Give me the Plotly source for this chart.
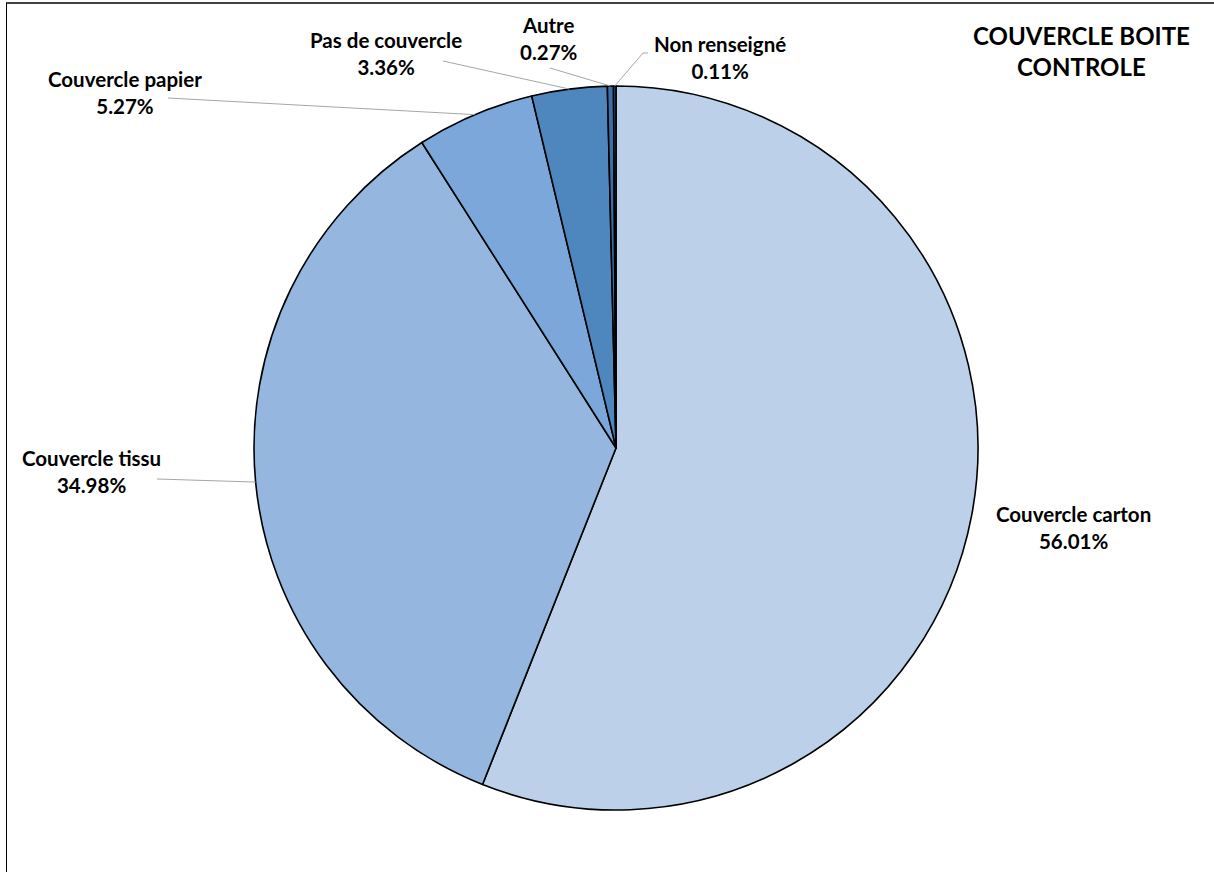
import math
import plotly.graph_objects as go

# ---- data ----
categories = ["Couvercle carton", "Couvercle tissu", "Couvercle papier",
              "Pas de couvercle", "Autre", "Non renseigné"]
percent = [56.01, 34.98, 5.27, 3.36, 0.27, 0.11]
colors = ["#BCD0E9", "#95B6DE", "#7BA7DA", "#4E87BD", "#3B6FA6", "#2A5A8E"]
title_text = "COUVERCLE BOITE<br>CONTROLE"

# ---- layout constants (pixels) ----
W, H = 1214, 872
CX, CY, R = 616, 448, 362
FONT = "Lato"

# label centre positions (px) and leader-line label ends (px, None = no line)
label_pos = [(1073, 527), (91, 471), (125, 92), (386, 53), (549, 39), (720, 58)]
line_start = [None, (157, 479), (168, 98), (443, 61), (550, 68), (648, 53)]


def px(x, y):
    return x / W, 1 - y / H


fig = go.Figure(go.Pie(
    labels=categories,
    values=percent,
    sort=False,
    direction="clockwise",
    rotation=0,
    marker=dict(colors=colors, line=dict(color="#000000", width=1.6)),
    textinfo="none",
    hoverinfo="skip",
    showlegend=False,
    domain=dict(x=[(CX - R) / W, (CX + R) / W], y=[(H - CY - R) / H, (H - CY + R) / H]),
))

annotations = []
shapes = []
total = sum(percent)
cum = 0.0
for i, (cat, v) in enumerate(zip(categories, percent)):
    mid = (cum + v / 2) / total * 2 * math.pi
    cum += v
    ex = CX + R * math.sin(mid)
    ey = CY - R * math.cos(mid)
    lx, ly = label_pos[i]
    ax, ay = px(lx, ly)
    annotations.append(dict(
        x=ax, y=ay, xref="paper", yref="paper", xanchor="center", yanchor="middle",
        text=f"<b>{cat}<br>{v:.2f}%</b>", showarrow=False, align="center",
        font=dict(family=FONT, size=20.5, color="#000000"),
    ))
    if line_start[i] is not None:
        sx, sy = line_start[i]
        if i == 5:
            # short horizontal tick then diagonal
            shapes.append(dict(type="line", xref="paper", yref="paper",
                               x0=px(sx, sy)[0], y0=px(sx, sy)[1],
                               x1=px(sx - 5, sy)[0], y1=px(sx - 5, sy)[1],
                               line=dict(color="#A6A6A6", width=1)))
            sx = sx - 5
        shapes.append(dict(type="line", xref="paper", yref="paper",
                           x0=px(sx, sy)[0], y0=px(sx, sy)[1],
                           x1=px(ex, ey)[0], y1=px(ex, ey)[1],
                           line=dict(color="#A6A6A6", width=1)))

# title
tx, ty = px(1081, 51)
annotations.append(dict(
    x=tx, y=ty, xref="paper", yref="paper", xanchor="center", yanchor="middle",
    text=f"<b>{title_text}</b>", showarrow=False, align="center",
    font=dict(family=FONT, size=24, color="#000000"),
))

# outer frame (top and left edges visible)
shapes.append(dict(type="line", xref="paper", yref="paper",
                   x0=px(6, 3)[0], y0=px(6, 3)[1], x1=1.0, y1=px(6, 3)[1],
                   line=dict(color="#000000", width=1.5)))
shapes.append(dict(type="line", xref="paper", yref="paper",
                   x0=px(6.5, 3)[0], y0=px(6, 3)[1], x1=px(6.5, 3)[0], y1=0.0,
                   line=dict(color="#000000", width=1)))

fig.update_layout(
    width=W, height=H,
    margin=dict(l=0, r=0, t=0, b=0),
    paper_bgcolor="#FFFFFF",
    plot_bgcolor="#FFFFFF",
    annotations=annotations,
    shapes=shapes,
)

fig.write_html("out.html")
